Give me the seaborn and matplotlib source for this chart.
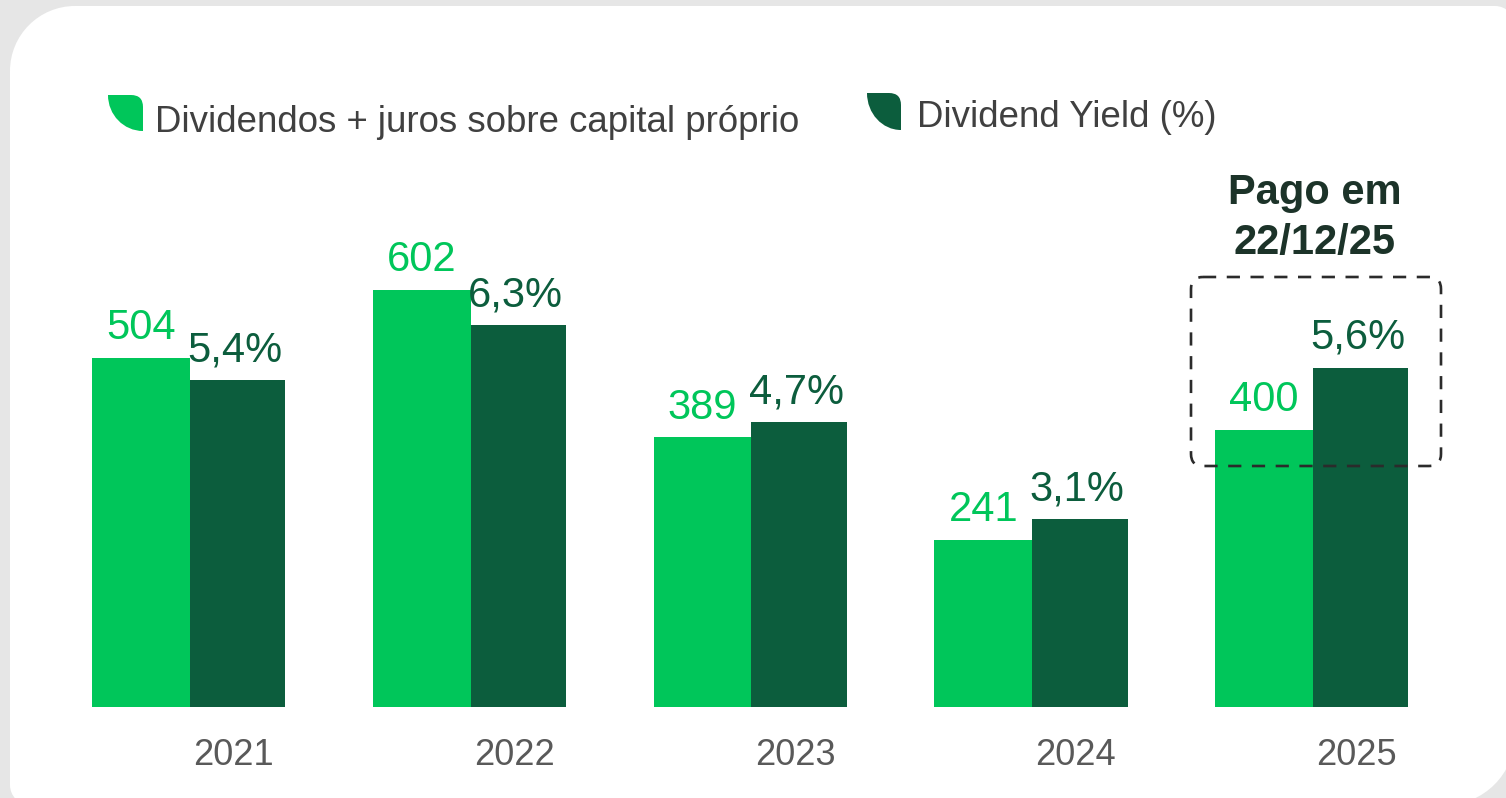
import numpy as np
import pandas as pd
import matplotlib
matplotlib.use("Agg")
import matplotlib.pyplot as plt
import seaborn as sns
from matplotlib.path import Path
from matplotlib.patches import PathPatch, FancyBboxPatch

# ---- data ----
years = ["2021", "2022", "2023", "2024", "2025"]
dividendos = [504, 602, 389, 241, 400]
dividend_yield = [5.4, 6.3, 4.7, 3.1, 5.6]
yield_labels = ["5,4%", "6,3%", "4,7%", "3,1%", "5,6%"]
series_names = ["Dividendos + juros sobre capital próprio", "Dividend Yield (%)"]
note_text = "Pago em\n22/12/25"

LIGHT = "#00C65A"
DARK = "#0C5D3D"
GRAY_TXT = "#595959"
LEG_TXT = "#404040"
NOTE = "#1C3329"

sns.set_theme(style="white")
plt.rcParams["font.family"] = ["Liberation Sans", "DejaVu Sans"]

W, H = 1506, 798
fig = plt.figure(figsize=(W / 100, H / 100), dpi=100)
fig.patch.set_facecolor("#E6E6E6")

# background card axes (pixel coordinates)
bg = fig.add_axes([0, 0, 1, 1], zorder=0)
bg.set_xlim(0, W); bg.set_ylim(H, 0); bg.axis("off")

def rounded_card(x0, y0, x1, y1, r_tl, r_tr, r_br, r_bl):
    k = 0.5523
    v = []; c = []
    v += [(x0 + r_tl, y0)]; c += [Path.MOVETO]
    v += [(x1 - r_tr, y0)]; c += [Path.LINETO]
    v += [(x1 - r_tr + k * r_tr, y0), (x1, y0 + r_tr - k * r_tr), (x1, y0 + r_tr)]; c += [Path.CURVE4] * 3
    v += [(x1, y1 - r_br)]; c += [Path.LINETO]
    v += [(x1, y1 - r_br + k * r_br), (x1 - r_br + k * r_br, y1), (x1 - r_br, y1)]; c += [Path.CURVE4] * 3
    v += [(x0 + r_bl, y1)]; c += [Path.LINETO]
    v += [(x0 + r_bl - k * r_bl, y1), (x0, y1 - r_bl + k * r_bl), (x0, y1 - r_bl)]; c += [Path.CURVE4] * 3
    v += [(x0, y0 + r_tl)]; c += [Path.LINETO]
    v += [(x0, y0 + r_tl - k * r_tl), (x0 + r_tl - k * r_tl, y0), (x0 + r_tl, y0)]; c += [Path.CURVE4] * 3
    v += [(x0 + r_tl, y0)]; c += [Path.CLOSEPOLY]
    return Path(v, c)

bg.add_patch(PathPatch(rounded_card(10, 6, 1515, 805, 65, 20, 70, 20),
                       facecolor="white", edgecolor="none"))

# ---- bars ----
df = pd.DataFrame({"year": years * 2,
                   "serie": ["div"] * 5 + ["dy"] * 5,
                   "value": dividendos + dividend_yield})
pal = {"div": LIGHT, "dy": DARK}

base_px = 707
ax1 = fig.add_axes([0, (H - base_px) / H, 1, base_px / H], zorder=1)
ax2 = ax1.twinx()
ax2.set_zorder(2)
for a in (ax1, ax2):
    a.patch.set_visible(False)

sns.barplot(data=df[df.serie == "div"], x="year", y="value", hue="serie",
            hue_order=["div", "dy"], palette=pal, order=years, width=0.698,
            dodge=True, legend=False, ax=ax1, saturation=1, linewidth=0)
sns.barplot(data=df[df.serie == "dy"], x="year", y="value", hue="serie",
            hue_order=["div", "dy"], palette=pal, order=years, width=0.68,
            dodge=True, legend=False, ax=ax2, saturation=1, linewidth=0)

ax1.set_ylim(0, base_px / 0.693)
ax2.set_ylim(0, base_px / 60.6)
spacing = 280.75
ax1.set_xlim(-190 / spacing, (W - 190) / spacing)

# value labels
for p, v in zip(ax1.patches, dividendos):
    ax1.annotate(f"{v}", (p.get_x() + p.get_width() / 2, p.get_height()),
                 xytext=(0, 13.5), textcoords="offset points", ha="center",
                 va="baseline", fontsize=30, color=LIGHT)
for p, lab in zip(ax2.patches, yield_labels):
    ax2.annotate(lab, (p.get_x() + p.get_width() / 2, p.get_height()),
                 xytext=(-2, 13.5), textcoords="offset points", ha="center",
                 va="baseline", fontsize=30, color=DARK)

for a in (ax1, ax2):
    a.set_xlabel(""); a.set_ylabel("")
    a.set_yticks([])
    for s in a.spines.values():
        s.set_visible(False)
ax1.set_xticks([i + 0.155 for i in range(len(years))], labels=years)
ax1.tick_params(axis="x", length=0, pad=22, labelsize=26, labelcolor=GRAY_TXT)
ax2.tick_params(axis="x", length=0, labelbottom=False)

# overlay axes for legend and annotation (pixel coordinates)
ov = fig.add_axes([0, 0, 1, 1], zorder=5)
ov.set_xlim(0, W); ov.set_ylim(H, 0); ov.axis("off")
ov.patch.set_visible(False)

def leaf(x0, y0, x1, y1, r=12):
    k = 0.5523
    w = x1 - x0; h = y1 - y0
    v = [(x0, y0), (x1 - r, y0), (x1, y0), (x1, y0 + r), (x1, y1),
         (x1 - k * w, y1), (x0, y0 + k * h), (x0, y0), (x0, y0)]
    c = [Path.MOVETO, Path.LINETO, Path.CURVE3, Path.CURVE3, Path.LINETO,
         Path.CURVE4, Path.CURVE4, Path.CURVE4, Path.CLOSEPOLY]
    return Path(v, c)

ov.add_patch(PathPatch(leaf(108, 95, 143, 131), facecolor=LIGHT, edgecolor="none"))
ov.add_patch(PathPatch(leaf(867, 93, 901, 130), facecolor=DARK, edgecolor="none"))
ov.text(155, 132, series_names[0], fontsize=26.4, color=LEG_TXT, va="baseline", ha="left")
ov.text(917, 127, series_names[1], fontsize=26.4, color=LEG_TXT, va="baseline", ha="left")

ov.text(1315, 218, note_text, fontsize=30, fontweight="bold", color=NOTE,
        ha="center", va="center", linespacing=1.33)
ov.add_patch(FancyBboxPatch((1191 + 12, 277 + 12), 250 - 24, 189 - 24,
                            boxstyle="round,pad=12", facecolor="none",
                            edgecolor="#2B2B2B", linewidth=1.9,
                            linestyle=(0, (5, 4))))

fig.savefig("out.png", dpi=100)
